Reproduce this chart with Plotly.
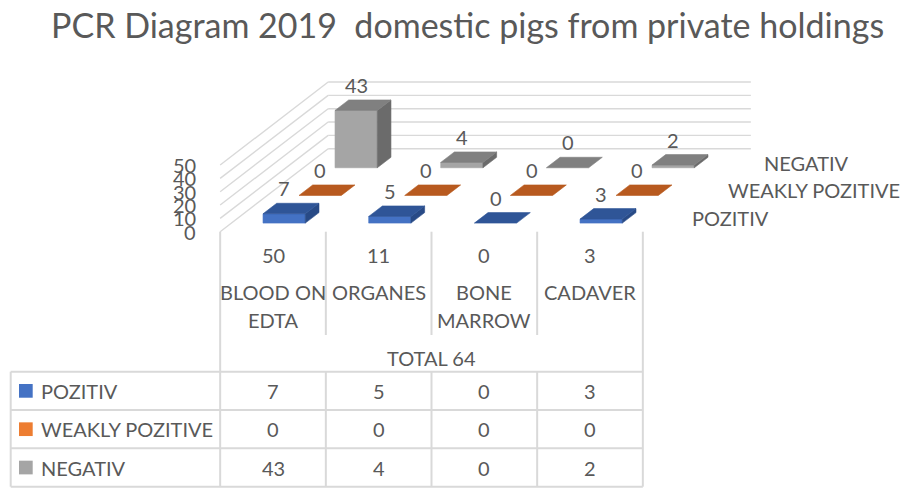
import plotly.graph_objects as go

# ---------------- data ----------------
title_text = "PCR Diagram 2019  domestic pigs from private holdings"
categories = ["BLOOD ON\nEDTA", "ORGANES", "BONE\nMARROW", "CADAVER"]
category_totals = [50, 11, 0, 3]
total_label = "TOTAL 64"
series_names = ["POZITIV", "WEAKLY POZITIVE", "NEGATIV"]
pozitiv = [7, 5, 0, 3]
weakly_pozitive = [0, 0, 0, 0]
negativ = [43, 4, 0, 2]
value_ticks = [0, 10, 20, 30, 40, 50]

series_values = [pozitiv, weakly_pozitive, negativ]
# (front, top, side) shades, legend key colour
series_colors = [
    dict(front="#4472C4", top="#2F5597", side="#284A86", key="#4472C4"),
    dict(front="#D86F2A", top="#B85A1F", side="#9E4C18", key="#ED7D31"),
    dict(front="#A5A5A5", top="#808080", side="#6B6B6B", key="#A5A5A5"),
]

# ---------------- layout geometry ----------------
W, H = 909, 490
CAT_PX = 105.67      # px per category
X0_PX = 273.0        # px of first category centre
VAL_PX = 1.3333      # px per value unit
Y0_PX = 231.7        # px of value 0 at front of floor
DEPTH_DX = 36.0      # px per series slot (depth)
DEPTH_DY = 27.67
KX = DEPTH_DX / CAT_PX
KY = DEPTH_DY / VAL_PX
BAR_HW = 0.2         # half bar width (category units)
D_FRONT, D_BACK = 0.31, 0.69
N_SLOTS = len(series_names)
TXT = "#595959"
GRID = "#D9D9D9"
FONT = "Lato, Open Sans, sans-serif"


def proj(c, v, d):
    return c + d * KX, v + d * KY


def fx(px):
    return px / W


def fy(py):
    return 1 - py / H


fig = go.Figure()

# ---------------- walls gridlines ----------------
gx, gy = [], []
cmin, cmax = -0.5, len(categories) - 0.5
for t in value_ticks:
    for a, b in [((cmin, t, 0), (cmin, t, N_SLOTS)), ((cmin, t, N_SLOTS), (cmax, t, N_SLOTS))]:
        x1, y1 = proj(*a)
        x2, y2 = proj(*b)
        gx += [x1, x2, None]
        gy += [y1, y2, None]
fig.add_trace(go.Scatter(x=gx, y=gy, mode="lines", line=dict(color=GRID, width=1.4),
                         hoverinfo="skip", showlegend=False))


def poly(points, color):
    xs, ys = [], []
    for p in points:
        x, y = proj(*p)
        xs.append(x)
        ys.append(y)
    xs.append(xs[0])
    ys.append(ys[0])
    fig.add_trace(go.Scatter(x=xs, y=ys, mode="lines", fill="toself", fillcolor=color,
                             line=dict(color=color, width=0.6), hoverinfo="skip",
                             showlegend=False))


annotations = []


def ann(x, y, text, size=20, xanchor="center", yanchor="middle", ref="paper", **kw):
    annotations.append(dict(x=x, y=y, xref="x" if ref == "data" else "paper",
                            yref="y" if ref == "data" else "paper", text=text, showarrow=False,
                            xanchor=xanchor, yanchor=yanchor,
                            font=dict(size=size, color=TXT, family=FONT), **kw))


# ---------------- 3D bars (back to front) ----------------
for s in reversed(range(N_SLOTS)):
    col = series_colors[s]
    d0, d1 = s + D_FRONT, s + D_BACK
    for c, v in enumerate(series_values[s]):
        l, r = c - BAR_HW, c + BAR_HW
        if v > 0:
            poly([(l, 0, d0), (r, 0, d0), (r, v, d0), (l, v, d0)], col["front"])
            poly([(r, 0, d0), (r, 0, d1), (r, v, d1), (r, v, d0)], col["side"])
        poly([(l, v, d0), (r, v, d0), (r, v, d1), (l, v, d1)], col["top"])
        lx, _ = proj(c, v, d0)
        _, ly = proj(c, v, d1)
        ann(lx, ly, str(v), ref="data", yshift=15)

# ---------------- value axis labels ----------------
for t in value_ticks:
    x, y = proj(cmin, t, 0)
    ann(x, y, str(t), ref="data", xanchor="right", xshift=-22)

# ---------------- depth (series) labels ----------------
for s, name in enumerate(series_names):
    x, y = proj(cmax, 0, s + 0.5)
    ann(x, y, name, ref="data", xanchor="left", xshift=29)

# ---------------- data table ----------------
TOP, HDR_SEP_END, ROW0 = 231.7, 335.0, 371.7
ROW_H = 38.33
TBL_LEFT = 10.7
shapes = []
line = dict(color=GRID, width=2)


def col_px(c):
    return X0_PX + c * CAT_PX


left_px, right_px = col_px(cmin), col_px(cmax)
nrows = len(series_names)
bottom = ROW0 + nrows * ROW_H
for xp in (left_px, right_px):
    shapes.append(dict(type="line", xref="paper", yref="paper", x0=fx(xp), x1=fx(xp),
                       y0=fy(TOP), y1=fy(bottom), line=line))
for c in range(len(categories) - 1):
    xp = col_px(c + 0.5)
    shapes.append(dict(type="line", xref="paper", yref="paper", x0=fx(xp), x1=fx(xp),
                       y0=fy(TOP), y1=fy(HDR_SEP_END), line=line))
    shapes.append(dict(type="line", xref="paper", yref="paper", x0=fx(xp), x1=fx(xp),
                       y0=fy(ROW0), y1=fy(bottom), line=line))
shapes.append(dict(type="line", xref="paper", yref="paper", x0=fx(TBL_LEFT), x1=fx(TBL_LEFT),
                   y0=fy(ROW0), y1=fy(bottom), line=line))
for i in range(nrows + 1):
    yp = ROW0 + i * ROW_H
    shapes.append(dict(type="line", xref="paper", yref="paper", x0=fx(TBL_LEFT), x1=fx(right_px),
                       y0=fy(yp), y1=fy(yp), line=line))

for c, (name, tot) in enumerate(zip(categories, category_totals)):
    xp = col_px(c)
    ann(fx(xp), fy(255), str(tot))
    for i, ln in enumerate(name.split("\n")):
        ann(fx(xp), fy(291.7 + 28.3 * i), ln)
ann(fx((left_px + right_px) / 2), fy(358), total_label)

for s, name in enumerate(series_names):
    yc = ROW0 + (s + 0.5) * ROW_H
    shapes.append(dict(type="rect", xref="paper", yref="paper", x0=fx(19), x1=fx(32.7),
                       y0=fy(yc - 6.85), y1=fy(yc + 6.85),
                       fillcolor=series_colors[s]["key"], line=dict(width=0)))
    ann(fx(39.3), fy(yc), name, xanchor="left")
    for c, v in enumerate(series_values[s]):
        ann(fx(col_px(c)), fy(yc), str(v))

# ---------------- title ----------------
ann(fx(467), fy(25), title_text, size=34)

fig.update_layout(
    width=W, height=H, autosize=False,
    margin=dict(l=0, r=0, t=0, b=0),
    paper_bgcolor="white", plot_bgcolor="white",
    xaxis=dict(range=[(0 - X0_PX) / CAT_PX, (W - X0_PX) / CAT_PX], visible=False, fixedrange=True),
    yaxis=dict(range=[-(H - Y0_PX) / VAL_PX, Y0_PX / VAL_PX], visible=False, fixedrange=True),
    shapes=shapes, annotations=annotations, showlegend=False,
)

fig.write_html("out.html", config=dict(displayModeBar=False),
               post_script="document.body.style.margin='0';document.body.style.overflow='hidden';")
